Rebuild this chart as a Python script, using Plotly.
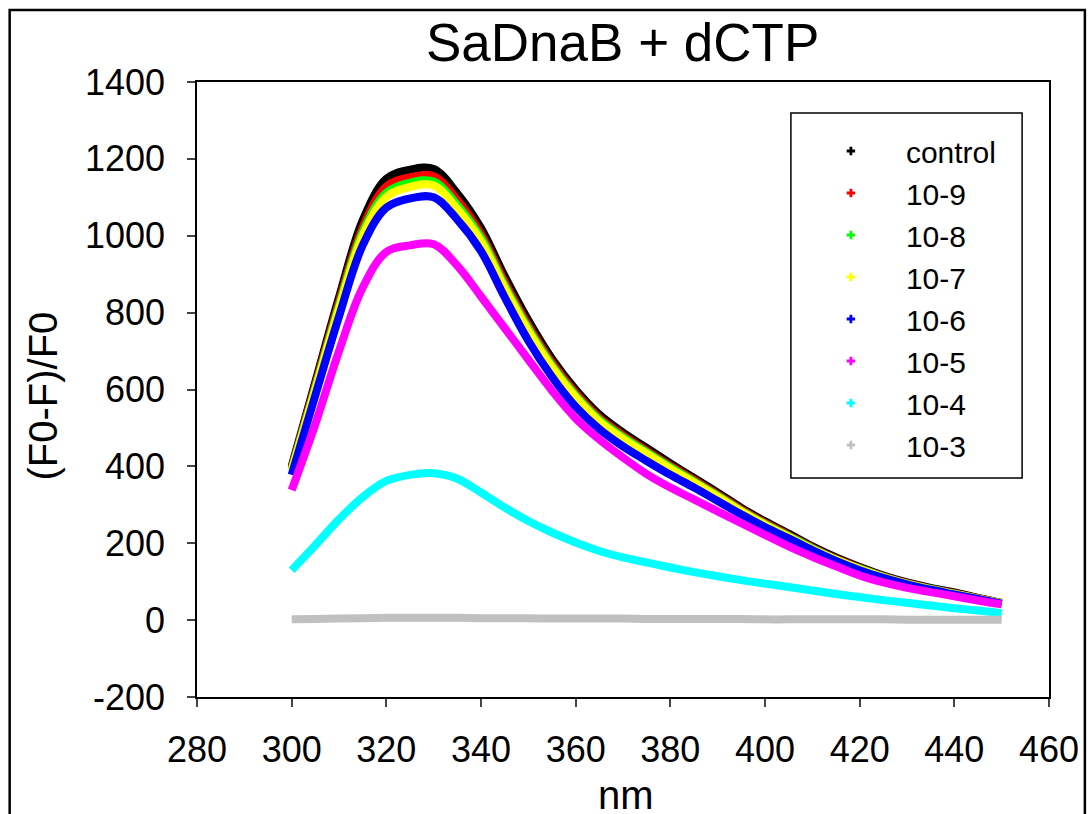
import plotly.graph_objects as go

wavelength = [300, 305, 310, 315, 320, 325, 330, 335, 340, 345, 350, 355, 360, 365, 370,
              375, 380, 385, 390, 395, 400, 405, 410, 415, 420, 425, 430, 435, 440, 445, 450]

control = [400, 620, 840, 1040, 1148, 1172, 1174, 1110, 1020, 895, 780, 680, 600, 535, 488,
           448, 408, 370, 332, 292, 257, 225, 192, 163, 138, 116, 98, 84, 72, 58, 45]
c_10_9 = [396, 612, 828, 1022, 1128, 1152, 1155, 1093, 1005, 880, 767, 670, 591, 527, 481,
          441, 402, 365, 327, 288, 253, 221, 189, 160, 136, 114, 96, 82, 70, 57, 44]
c_10_8 = [392, 605, 818, 1010, 1112, 1138, 1141, 1080, 995, 871, 759, 663, 585, 522, 476,
          437, 398, 361, 324, 285, 250, 219, 187, 158, 134, 113, 95, 81, 69, 56, 44]
c_10_7 = [388, 600, 810, 1000, 1101, 1127, 1131, 1070, 986, 864, 753, 658, 580, 517, 472,
          433, 394, 358, 321, 283, 248, 217, 185, 157, 133, 112, 94, 80, 68, 56, 44]
c_10_6 = [378, 585, 790, 975, 1073, 1097, 1100, 1042, 960, 840, 727, 633, 555, 497, 452,
          414, 378, 345, 310, 275, 242, 213, 182, 154, 130, 110, 93, 79, 67, 55, 43]
c_10_5 = [338, 510, 700, 865, 958, 975, 978, 922, 842, 760, 678, 597, 525, 470, 423,
          380, 345, 314, 283, 252, 222, 192, 165, 140, 116, 98, 84, 73, 62, 51, 41]
c_10_4 = [130, 195, 262, 320, 362, 378, 382, 368, 332, 293, 258, 228, 202, 180, 163,
          150, 137, 125, 114, 104, 95, 86, 77, 68, 60, 52, 45, 38, 31, 25, 18]
c_10_3 = [2, 3, 4, 5, 6, 6, 6, 6, 5, 5, 5, 4, 4, 4, 4,
          3, 3, 3, 3, 3, 2, 2, 2, 2, 2, 2, 1, 1, 1, 1, 1]

series_names = ["control", "10-9", "10-8", "10-7", "10-6", "10-5", "10-4", "10-3"]
series_values = [control, c_10_9, c_10_8, c_10_7, c_10_6, c_10_5, c_10_4, c_10_3]
series_colors = ["#000000", "#FF0000", "#00FF00", "#FFFF00", "#0000FF", "#FF00FF", "#00FFFF", "#C0C0C0"]

x_ticks = [280, 300, 320, 340, 360, 380, 400, 420, 440, 460]
y_ticks = [-200, 0, 200, 400, 600, 800, 1000, 1200, 1400]
y_tick_labels = ["-200", "0", "200", "400", "600", "800", "1000", "1200", "1400"]

FONT = "Arial, 'Liberation Sans', sans-serif"

W, H = 1091, 814
L, R, T, B = 197, 1052, 82, 697
pw, ph = R - L, B - T


def px(xp):
    return (xp - L) / pw


def py(yp):
    return (B - yp) / ph


fig = go.Figure()
for name, vals, col in zip(series_names, series_values, series_colors):
    fig.add_trace(go.Scatter(
        x=wavelength, y=vals, mode="lines", line=dict(color=col, width=8, shape="spline"),
        showlegend=False, legendgroup=name, hoverinfo="skip"))
for name, col in zip(series_names, series_colors):
    fig.add_trace(go.Scatter(
        x=[None], y=[None], mode="markers", name=name, legendgroup=name,
        marker=dict(symbol="cross", size=7, color=col)))

fig.update_layout(
    width=W, height=H,
    margin=dict(l=L, r=W - R, t=T, b=H - B),
    paper_bgcolor="white", plot_bgcolor="white",
    font=dict(family=FONT, color="black"),
    showlegend=True,
    legend=dict(x=px(798), y=py(125), xanchor="left", yanchor="top",
                bgcolor="rgba(0,0,0,0)", borderwidth=0,
                font=dict(size=30, family=FONT), itemwidth=100,
                tracegroupgap=0),
    xaxis=dict(range=[280, 460], tickvals=x_ticks, ticks="outside", ticklen=8,
               tickwidth=1.5, showline=True, linewidth=1.5, linecolor="black",
               mirror=True, showgrid=False, zeroline=False,
               tickfont=dict(size=36, family=FONT), ticklabelstandoff=12),
    yaxis=dict(range=[-200, 1400], tickvals=y_ticks, ticktext=y_tick_labels,
               ticks="outside", ticklen=8,
               tickwidth=1.5, showline=True, linewidth=1.5, linecolor="black",
               mirror=True, showgrid=False, zeroline=False,
               tickfont=dict(size=36, family=FONT), ticklabelstandoff=15),
    annotations=[
        dict(text="SaDnaB + dCTP", x=px(624), y=py(42), xref="paper", yref="paper",
             xanchor="center", yanchor="middle", showarrow=False,
             font=dict(size=53, family=FONT)),
        dict(text="(F0-F)/F0", x=px(42), y=py(396), xref="paper", yref="paper",
             xanchor="center", yanchor="middle", showarrow=False, textangle=-90,
             font=dict(size=40, family=FONT)),
        dict(text="nm", x=px(628), y=py(795), xref="paper", yref="paper",
             xanchor="center", yanchor="middle", showarrow=False,
             font=dict(size=40, family=FONT)),
    ],
    shapes=[
        dict(type="rect", xref="paper", yref="paper", x0=px(793), x1=px(1025),
             y0=py(478), y1=py(113), line=dict(color="black", width=1.5)),
        dict(type="rect", xref="paper", yref="paper", x0=px(9), x1=px(1088),
             y0=py(830), y1=py(10), line=dict(color="black", width=2.5)),
    ],
)

fig.write_html("out.html")
